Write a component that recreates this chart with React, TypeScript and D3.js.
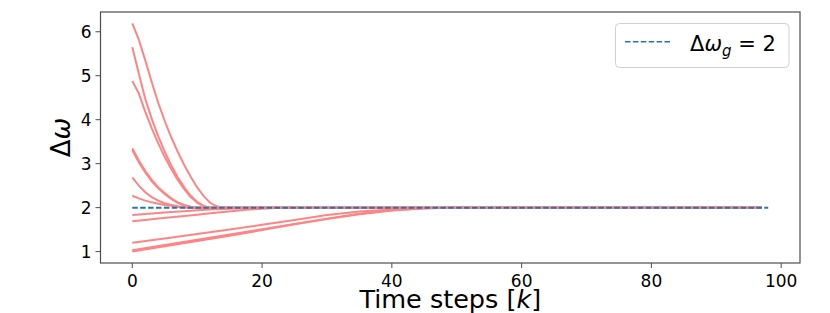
import * as d3 from 'd3'

type Pt = [number, number]

// trajectories of delta omega as [k, value]
const curveA: Pt[] = [[0, 6.19], [1, 5.82], [2, 5.35], [3, 4.85], [4, 4.38], [5, 3.97], [6, 3.6], [7, 3.27], [8, 2.97], [9, 2.7], [10, 2.46], [11, 2.26], [12, 2.11], [13, 2.03], [14, 2.0], [97, 2.0]]
const curveB: Pt[] = [[0, 5.65], [1, 5.05], [2, 4.47], [3, 4.02], [4, 3.62], [5, 3.27], [6, 2.96], [7, 2.69], [8, 2.46], [9, 2.27], [10, 2.13], [11, 2.04], [12, 2.0], [97, 2.0]]
const curveC: Pt[] = [[0, 4.88], [1, 4.6], [2, 4.18], [3, 3.8], [4, 3.46], [5, 3.15], [6, 2.88], [7, 2.63], [8, 2.42], [9, 2.24], [10, 2.11], [11, 2.03], [12, 2.0], [97, 2.0]]
const curveD1: Pt[] = [[0, 3.35], [1, 3.07], [2, 2.83], [3, 2.63], [4, 2.46], [5, 2.33], [6, 2.21], [7, 2.12], [8, 2.06], [9, 2.02], [10, 2.0], [97, 2.0]]
const curveD2: Pt[] = [[0, 3.31], [1, 3.03], [2, 2.8], [3, 2.6], [4, 2.44], [5, 2.31], [6, 2.2], [7, 2.11], [8, 2.05], [9, 2.02], [10, 2.0], [97, 2.0]]
const curveE: Pt[] = [[0, 2.69], [1, 2.5], [2, 2.35], [3, 2.24], [4, 2.16], [5, 2.1], [6, 2.06], [7, 2.03], [8, 2.01], [9, 2.0], [97, 2.0]]
const curveF: Pt[] = [[0, 2.27], [1, 2.21], [2, 2.16], [3, 2.12], [4, 2.09], [5, 2.06], [6, 2.04], [7, 2.02], [8, 2.01], [9, 2.0], [97, 2.0]]
const curveG: Pt[] = [[0, 1.83], [2, 1.855], [4, 1.88], [6, 1.9], [8, 1.92], [10, 1.94], [12, 1.955], [14, 1.97], [16, 1.98], [18, 1.99], [20, 1.995], [22, 2.0], [97, 2.0]]
const curveH: Pt[] = [[0, 1.69], [2, 1.72], [4, 1.75], [6, 1.78], [8, 1.81], [10, 1.84], [12, 1.87], [14, 1.9], [16, 1.93], [18, 1.955], [20, 1.975], [22, 1.99], [24, 2.0], [97, 2.0]]
const curveI: Pt[] = [[0, 1.2], [5, 1.3], [10, 1.4], [15, 1.5], [20, 1.61], [25, 1.72], [30, 1.83], [35, 1.91], [40, 1.96], [45, 1.99], [50, 2.0], [97, 2.0]]
const curveJ1: Pt[] = [[0, 1.03], [5, 1.15], [10, 1.27], [15, 1.39], [20, 1.51], [25, 1.63], [30, 1.75], [35, 1.86], [40, 1.94], [45, 1.985], [50, 2.0], [97, 2.0]]
const curveJ2: Pt[] = [[0, 1.0], [5, 1.12], [10, 1.24], [15, 1.36], [20, 1.49], [25, 1.62], [30, 1.74], [35, 1.85], [40, 1.935], [45, 1.98], [50, 2.0], [97, 2.0]]

const curves = [curveA, curveB, curveC, curveD1, curveD2, curveE, curveF, curveG, curveH, curveI, curveJ1, curveJ2]

// goal line
const goal: Pt[] = [[0, 2], [98, 2]]

const xTicks = [0, 20, 40, 60, 80, 100]
const yTicks = [1, 2, 3, 4, 5, 6]

const W = 830
const H = 313
const margin = { left: 100.5, right: 800, top: 12, bottom: 263 }
const font = 'DejaVu Sans, sans-serif'

export default function App() {
  // matplotlib style 5% margins
  const allK = [...curves.flat().map((d) => d[0]), ...goal.map((d) => d[0])]
  const allV = curves.flat().map((d) => d[1])
  const [k0, k1] = d3.extent(allK) as [number, number]
  const [v0, v1] = d3.extent(allV) as [number, number]
  const padK = (k1 - k0) * 0.05
  const padV = (v1 - v0) * 0.05

  const x = d3.scaleLinear().domain([k0 - padK, k1 + padK]).range([margin.left, margin.right])
  const y = d3.scaleLinear().domain([v0 - padV, v1 + padV]).range([margin.bottom, margin.top])

  const line = d3
    .line<Pt>()
    .x((d) => x(d[0]))
    .y((d) => y(d[1]))

  const midX = (margin.left + margin.right) / 2
  const midY = (margin.top + margin.bottom) / 2

  return (
    <svg width={W} height={H} style={{ position: 'absolute', left: 0, top: 0 }} fontFamily={font}>
      <rect x={0} y={0} width={W} height={H} fill="white" />
      {curves.map((c, i) => (
        <path key={i} d={line(c) ?? ''} fill="none" stroke="#ff8585" strokeWidth={2} />
      ))}
      <path d={line(goal) ?? ''} fill="none" stroke="#1f77b4" strokeWidth={2} strokeDasharray="5.5,2.4" />

      {/* frame */}
      <rect
        x={margin.left}
        y={margin.top}
        width={margin.right - margin.left}
        height={margin.bottom - margin.top}
        fill="none"
        stroke="#4d4d4d"
        strokeWidth={1.2}
      />

      {/* x axis */}
      {xTicks.map((t) => (
        <g key={t} transform={`translate(${x(t)},${margin.bottom})`}>
          <line y2={5} stroke="#4d4d4d" strokeWidth={1} />
          <text y={23.5} textAnchor="middle" fontSize={17} fill="#000">
            {t}
          </text>
        </g>
      ))}
      {/* y axis */}
      {yTicks.map((t) => (
        <g key={t} transform={`translate(${margin.left},${y(t)})`}>
          <line x2={-5} stroke="#4d4d4d" strokeWidth={1} />
          <text x={-9} dy="0.36em" textAnchor="end" fontSize={17} fill="#000">
            {t}
          </text>
        </g>
      ))}

      <text x={midX} y={308} textAnchor="middle" fontSize={25.5}>
        Time steps [<tspan fontStyle="italic">k</tspan>]
      </text>
      <text transform={`translate(70,${midY}) rotate(-90)`} textAnchor="middle" fontSize={26}>
        Δ<tspan fontStyle="italic">ω</tspan>
      </text>

      {/* legend */}
      <rect x={615.5} y={23.5} width={173.5} height={44} rx={4} fill="white" fillOpacity={0.8} stroke="#d0d0d0" strokeWidth={1} />
      <line x1={625} x2={671} y1={41.7} y2={41.7} stroke="#1f77b4" strokeWidth={1.6} strokeDasharray="5.5,2.4" />
      <text x={690} y={51} fontSize={21}>
        Δ<tspan fontStyle="italic">ω</tspan>
        <tspan fontStyle="italic" fontSize={15} dy={5}>g</tspan>
        <tspan dy={-5}> = 2</tspan>
      </text>
    </svg>
  )
}
